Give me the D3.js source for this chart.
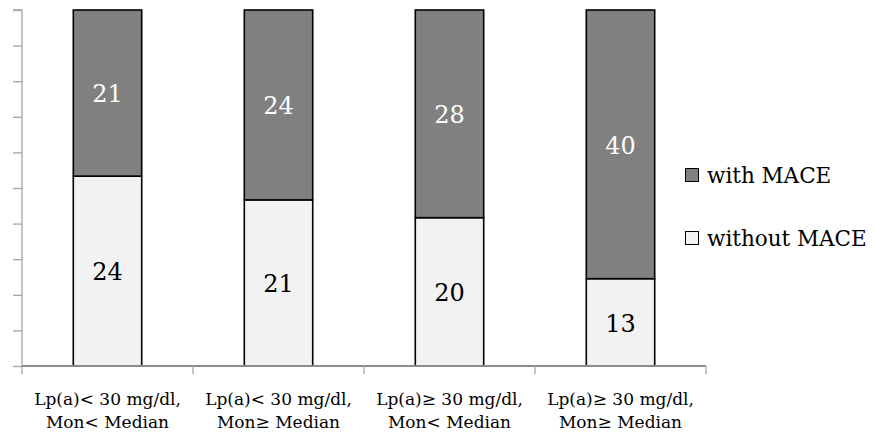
<!DOCTYPE html>
<html>
<head>
<meta charset="utf-8">
<script src="https://cdn.jsdelivr.net/npm/d3@7"></script>
<style>
	body { margin: 0; background: #fff; }
</style>
</head>
<body>
<div id="chart"></div>
<script>
// Data
const categories = [
	["Lp(a)< 30 mg/dl,", "Mon< Median"],
	["Lp(a)< 30 mg/dl,", "Mon\u2265 Median"],
	["Lp(a)\u2265 30 mg/dl,", "Mon< Median"],
	["Lp(a)\u2265 30 mg/dl,", "Mon\u2265 Median"],
];
const withoutMace = [24, 21, 20, 13];
const withMace = [21, 24, 28, 40];
const seriesNames = ["without MACE", "with MACE"];
const seriesColors = ["#f2f2f2", "#808080"];

const width = 875;
const height = 439;
const plot = { left: 22, right: 706, top: 10, bottom: 366 };
const fontFamily = "'DejaVu Serif', serif";

const svg = d3
	.select("#chart")
	.append("svg")
	.attr("width", width)
	.attr("height", height)
	.attr("font-family", fontFamily)
	.style("display", "block");

// Build rows for stacking
const rows = categories.map((c, i) => ({
	idx: i,
	"without MACE": withoutMace[i],
	"with MACE": withMace[i],
}));

const stack = d3.stack().keys(seriesNames).offset(d3.stackOffsetExpand);
const stacked = stack(rows);

const xScale = d3
	.scaleBand()
	.domain(d3.range(categories.length))
	.range([plot.left, plot.right])
	.paddingInner(0.6)
	.paddingOuter(0.3);

const yScale = d3.scaleLinear().domain([0, 1]).range([plot.bottom, plot.top]);

const color = d3.scaleOrdinal().domain(seriesNames).range(seriesColors);

// Y axis (no labels)
const yAxis = svg
	.append("g")
	.attr("transform", `translate(${plot.left},0)`)
	.call(d3.axisLeft(yScale).ticks(10).tickSize(9).tickFormat(""));
yAxis.selectAll("path, line").attr("stroke", "#a6a6a6").attr("stroke-width", 1.3);
yAxis.select(".domain").attr("d", `M-9,${plot.top}H0V${plot.bottom}`);

// Bars
const layers = svg
	.selectAll(".layer")
	.data(stacked)
	.enter()
	.append("g")
	.attr("class", "layer")
	.attr("fill", (d) => color(d.key));

layers
	.selectAll("rect")
	.data((d) => d)
	.enter()
	.append("rect")
	.attr("x", (d) => xScale(d.data.idx))
	.attr("width", xScale.bandwidth())
	.attr("y", (d) => yScale(d[1]))
	.attr("height", (d) => yScale(d[0]) - yScale(d[1]))
	.attr("stroke", "#000")
	.attr("stroke-width", 1.6);

// Value labels
layers
	.selectAll("text")
	.data((d) => d.map((v) => ({ v, key: d.key })))
	.enter()
	.append("text")
	.attr("x", (d) => xScale(d.v.data.idx) + xScale.bandwidth() / 2)
	.attr("y", (d) => (yScale(d.v[0]) + yScale(d.v[1])) / 2 + 1)
	.attr("dy", "0.35em")
	.attr("text-anchor", "middle")
	.attr("font-family", fontFamily)
	.attr("font-size", 24)
	.attr("fill", (d) => (d.key === "with MACE" ? "#fff" : "#000"))
	.text((d) => d.v.data[d.key]);

// X axis with category ticks at band edges
const edges = d3.range(categories.length + 1).map((i) => plot.left + i * (plot.right - plot.left) / categories.length);
const xAxis = svg.append("g");
xAxis
	.append("line")
	.attr("x1", plot.left)
	.attr("x2", plot.right)
	.attr("y1", plot.bottom)
	.attr("y2", plot.bottom)
	.attr("stroke", "#8c8c8c")
	.attr("stroke-width", 2);
xAxis
	.selectAll(".tick")
	.data(edges)
	.enter()
	.append("line")
	.attr("x1", (d) => d)
	.attr("x2", (d) => d)
	.attr("y1", plot.bottom)
	.attr("y2", plot.bottom + 8)
	.attr("stroke", "#a6a6a6")
	.attr("stroke-width", 1.3);

// Category labels
const catLabels = svg
	.selectAll(".cat")
	.data(categories)
	.enter()
	.append("text")
	.attr("class", "cat")
	.attr("text-anchor", "middle")
	.attr("font-family", fontFamily)
	.attr("font-size", 17)
	.attr("fill", "#000");
catLabels
	.selectAll("tspan")
	.data((d, i) => d.map((line, j) => ({ line, j, i })))
	.enter()
	.append("tspan")
	.attr("x", (d) => xScale(d.i) + xScale.bandwidth() / 2)
	.attr("y", (d) => 405 + d.j * 23)
	.text((d) => d.line);

// Legend
const legendItems = [
	{ key: "with MACE", y: 183 },
	{ key: "without MACE", y: 246 },
];
const legend = svg
	.selectAll(".legend")
	.data(legendItems)
	.enter()
	.append("g")
	.attr("class", "legend")
	.attr("transform", (d) => `translate(685,${d.y})`);
legend
	.append("rect")
	.attr("x", 0.5)
	.attr("y", -14.5)
	.attr("width", 13)
	.attr("height", 13)
	.attr("fill", (d) => color(d.key))
	.attr("stroke", "#000")
	.attr("stroke-width", 1);
legend
	.append("text")
	.attr("x", 22)
	.attr("y", 0)
	.attr("font-family", fontFamily)
	.attr("font-size", 21.5)
	.attr("fill", "#000")
	.text((d) => d.key);
</script>
</body>
</html>
